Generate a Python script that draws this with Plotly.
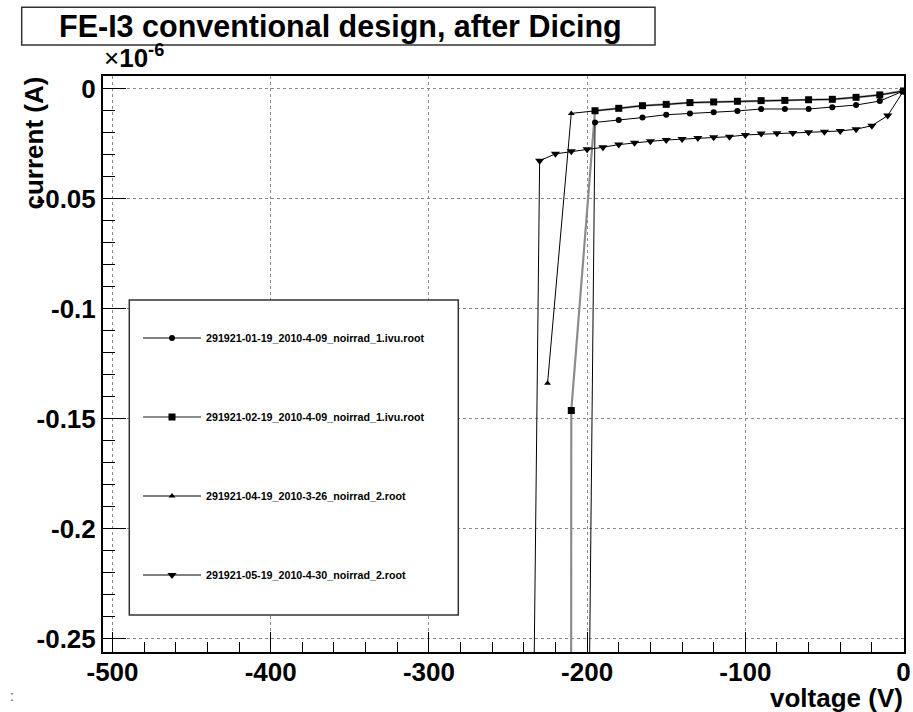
import numpy as np
import plotly.graph_objects as go

# ---------------- data (current in units of 1e-6 A) ----------------
names = [
    "291921-01-19_2010-4-09_noirrad_1.ivu.root",
    "291921-02-19_2010-4-09_noirrad_1.ivu.root",
    "291921-04-19_2010-3-26_noirrad_2.root",
    "291921-05-19_2010-4-30_noirrad_2.root",
]

v_circle = [0, -15, -30, -45, -60, -75, -90, -105, -120, -135, -150, -165, -180, -195, -210]
i_circle = [-0.0009, -0.0055, -0.0073, -0.0083, -0.0091, -0.0091, -0.0091, -0.0100,
            -0.0106, -0.0111, -0.0117, -0.0130, -0.0141, -0.0152, -1.08]

v_square = [0, -15, -30, -45, -60, -75, -90, -105, -120, -135, -150, -165, -180, -195, -210, -225]
i_square = [-0.0009, -0.0027, -0.0038, -0.0047, -0.0049, -0.0052, -0.0053, -0.0056,
            -0.0059, -0.0062, -0.0070, -0.0076, -0.0088, -0.0099, -0.1462, -20.0]

v_tri = [0, -15, -30, -45, -60, -75, -90, -105, -120, -135, -150, -165, -180, -195, -210, -225]
i_tri = [-0.0009, -0.0027, -0.0038, -0.0047, -0.0049, -0.0052, -0.0053, -0.0056,
         -0.0059, -0.0062, -0.0070, -0.0076, -0.0088, -0.0099, -0.0111, -0.1338]

v_itri = [0, -10, -20, -30, -40, -50, -60, -70, -80, -90, -100, -110, -120, -130,
          -140, -150, -160, -170, -180, -190, -200, -210, -220, -230, -240]
i_itri = [-0.0009, -0.0121, -0.0167, -0.0183, -0.0191, -0.0194, -0.0197, -0.0200,
          -0.0201, -0.0203, -0.0209, -0.0217, -0.0220, -0.0223, -0.0227, -0.0232,
          -0.0238, -0.0244, -0.0253, -0.0265, -0.0274, -0.0283, -0.0295, -0.0326, -0.69]

x_tickvals = [-500, -400, -300, -200, -100, 0]
x_ticktext = ["-500", "-400", "-300", "-200", "-100", "0"]
y_tickvals = [0, -0.05, -0.1, -0.15, -0.2, -0.25]
y_ticktext = ["0", "-0.05", "-0.1", "-0.15", "-0.2", "-0.25"]

# ---------------- layout geometry ----------------
W, H = 913, 712
L, R, T, B = 103, 904, 76, 652   # plot area in pixels

def px(xp):
    return (xp - L) / (R - L)

def py(yp):
    return (B - yp) / (B - T)

FONT = "Liberation Sans, Arial, Helvetica, sans-serif"

fig = go.Figure()

series = [
    (v_square, i_square, names[1], "square", 7, "#8c8c8c", 2.2),
    (v_circle, i_circle, names[0], "circle", 6, "black", 1),
    (v_tri, i_tri, names[2], "triangle-up", 6, "black", 1),
    (v_itri, i_itri, names[3], "triangle-down", 8, "black", 1),
]
legend_rank = {names[0]: 1, names[1]: 2, names[2]: 3, names[3]: 4}
for vx, iy, nm, sym, sz, lc, lw in series:
    fig.add_trace(go.Scatter(
        x=vx, y=iy, name=nm, mode="lines+markers",
        line=dict(color=lc, width=lw),
        marker=dict(symbol=sym, size=sz, color="black", line=dict(width=0)),
        legendgroup=nm, legendrank=legend_rank[nm],
    ))

axis_common = dict(
    showline=True, linecolor="black", linewidth=2, mirror=True,
    ticks="inside", tickcolor="black", tickwidth=1,
    showgrid=True, gridcolor="#8a8a8a", griddash="dot", gridwidth=1,
    zeroline=False, automargin=False,
    tickfont=dict(family=FONT, size=26, color="black", weight="bold"),
    tickmode="array",
)

fig.update_xaxes(
    range=[-506, 0.3], tickvals=x_tickvals, ticktext=x_ticktext, ticklen=20,
    ticklabelstandoff=-4,
    minor=dict(tickvals=list(np.arange(-500, 1, 20)), ticklen=10, ticks="inside",
               tickcolor="black", showgrid=False),
    **axis_common,
)
fig.update_yaxes(
    range=[-0.2560, 0.0059], tickvals=y_tickvals, ticktext=y_ticktext, ticklen=23,
    minor=dict(tickvals=list(np.round(np.arange(-0.25, 0.0051, 0.01), 3)), ticklen=12,
               ticks="inside", tickcolor="black", showgrid=False),
    **axis_common,
)

shapes = [
    # title box
    dict(type="rect", xref="paper", yref="paper",
         x0=px(21.7), x1=px(655), y0=py(45), y1=py(7.3),
         line=dict(color="#333333", width=1.5), fillcolor="rgba(0,0,0,0)", layer="above"),
    # legend box
    dict(type="rect", xref="paper", yref="paper",
         x0=px(129.3), x1=px(458.3), y0=py(615), y1=py(300),
         line=dict(color="#333333", width=1.5), fillcolor="white", layer="above"),
]

annotations = [
    dict(text="current (A)", textangle=-90, xref="paper", yref="paper",
         x=px(34), y=py(75), xanchor="center", yanchor="top", showarrow=False,
         font=dict(family=FONT, size=26, color="black", weight="bold")),
    dict(text="voltage (V)", xref="paper", yref="paper",
         x=px(905), y=py(698), xanchor="right", yanchor="middle", showarrow=False,
         font=dict(family=FONT, size=26, color="black", weight="bold")),
    dict(text="×<b>10<sup>-6</sup></b>", xref="paper", yref="paper",
         x=px(102), y=py(75), xanchor="left", yanchor="bottom", showarrow=False,
         font=dict(family=FONT, size=26, color="black")),
    dict(text=":", xref="paper", yref="paper",
         x=px(12), y=py(696), xanchor="center", yanchor="middle", showarrow=False,
         font=dict(family=FONT, size=14, color="#555555")),
]

fig.update_layout(
    width=W, height=H,
    margin=dict(l=L, r=W - R, t=T, b=H - B, autoexpand=False),
    paper_bgcolor="white", plot_bgcolor="white",
    title=dict(text="FE-I3 conventional design, after Dicing",
               xref="container", yref="container", x=59 / W, xanchor="left",
               y=1 - 26 / H, yanchor="middle",
               font=dict(family=FONT, size=30.5, color="black", weight="bold")),
    showlegend=True,
    legend=dict(
        xref="paper", yref="paper",
        x=px(138), xanchor="left", y=py(323.5), yanchor="top",
        bgcolor="rgba(0,0,0,0)", borderwidth=0,
        font=dict(family=FONT, size=10.7, color="black", weight="bold"),
        tracegroupgap=60, itemwidth=58, traceorder="grouped",
    ),
    shapes=shapes, annotations=annotations,
)

fig.write_html("out.html")
